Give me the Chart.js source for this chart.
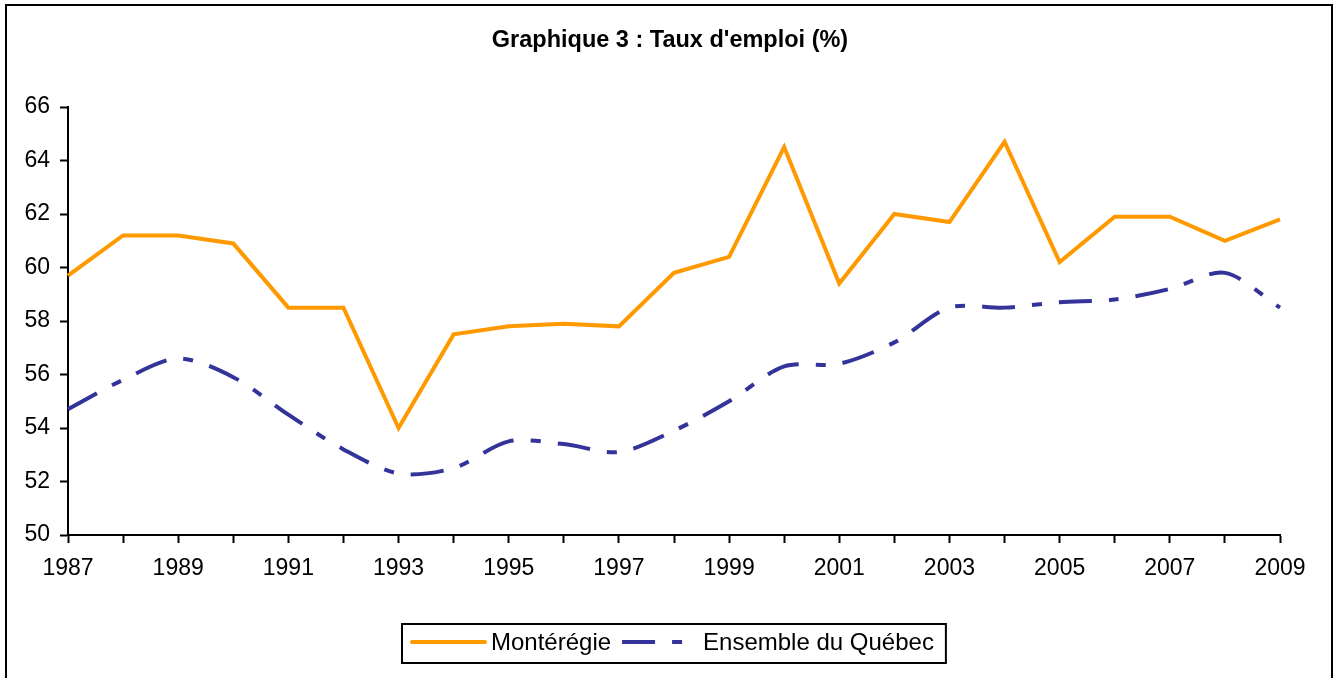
<!DOCTYPE html>
<html>
<head>
<meta charset="utf-8">
<script src="https://cdn.jsdelivr.net/npm/chart.js@4/dist/chart.umd.min.js"></script>
<style>
  html, body { margin: 0; padding: 0; background: #fff; overflow: hidden; }
</style>
</head>
<body>
<canvas id="chart" width="1335" height="678"></canvas>
<script>
// data
const years = ['1987', '1988', '1989', '1990', '1991', '1992', '1993', '1994', '1995', '1996', '1997', '1998',
  '1999', '2000', '2001', '2002', '2003', '2004', '2005', '2006', '2007', '2008', '2009'];
const monteregie = [59.7, 61.2, 61.2, 60.9, 58.5, 58.5, 54.0, 57.5, 57.8, 57.9, 57.8, 59.8,
  60.4, 64.5, 59.4, 62.0, 61.7, 64.7, 60.2, 61.9, 61.9, 61.0, 61.8];
const quebec = [54.7, 55.8, 56.6, 55.9, 54.5, 53.2, 52.3, 52.5, 53.5, 53.4, 53.1, 53.9,
  55.0, 56.3, 56.4, 57.2, 58.5, 58.5, 58.7, 58.8, 59.2, 59.8, 58.5];
const yTicks = [50, 52, 54, 56, 58, 60, 62, 64, 66];
const titleText = "Graphique 3 : Taux d'emploi (%)";

const FONT = '"Liberation Sans", Arial, sans-serif';

// frame, title and boxed legend, drawn like the Excel original
const framePlugin = {
  id: 'frame',
  beforeDraw(chart) {
    const ctx = chart.ctx;
    ctx.save();
    ctx.fillStyle = '#fff';
    ctx.fillRect(0, 0, chart.width, chart.height);
    ctx.restore();
  },
  afterDraw(chart) {
    const ctx = chart.ctx;
    ctx.save();
    ctx.strokeStyle = '#000';
    ctx.lineWidth = 2;
    ctx.strokeRect(6, 5, 1326, 720);

    ctx.fillStyle = '#000';
    ctx.font = 'bold 23.5px ' + FONT;
    ctx.textAlign = 'center';
    ctx.textBaseline = 'middle';
    ctx.fillText(titleText, 670, 41);

    // legend
    ctx.font = '24px ' + FONT;
    ctx.textAlign = 'left';
    const sample = 77, gap = 4, pad = 8, between = 11, padR = 12;
    const items = chart.data.datasets.map(ds => ({ ds, w: ctx.measureText(ds.label).width }));
    let total = pad + padR + between * (items.length - 1);
    items.forEach(it => { total += sample + gap + it.w; });
    let x = Math.round(674 - total / 2);
    const top = 624, h = 39, cy = 642;
    ctx.lineWidth = 2;
    ctx.strokeRect(x, top, total, h);
    x += pad;
    items.forEach(it => {
      ctx.save();
      ctx.strokeStyle = it.ds.borderColor;
      ctx.lineWidth = it.ds.borderWidth;
      ctx.lineCap = it.ds.borderDash ? 'butt' : 'round';
      ctx.setLineDash(it.ds.borderDash || []);
      ctx.beginPath();
      ctx.moveTo(x + (it.ds.borderDash ? 0 : 2), cy);
      ctx.lineTo(x + sample - (it.ds.borderDash ? 0 : 2), cy);
      ctx.stroke();
      ctx.restore();
      ctx.fillStyle = '#000';
      ctx.fillText(it.ds.label, x + sample + gap, cy + 1);
      x += sample + gap + it.w + between;
    });
    ctx.restore();
  }
};

const axisGrid = {
  display: true,
  drawOnChartArea: false,
  drawTicks: true,
  tickLength: 8,
  tickWidth: 2,
  tickColor: '#000'
};

new Chart(document.getElementById('chart').getContext('2d'), {
  type: 'line',
  data: {
    labels: years,
    datasets: [{
      label: 'Montérégie',
      data: monteregie,
      borderColor: '#FF9900',
      backgroundColor: '#FF9900',
      borderWidth: 4,
      pointRadius: 0,
      tension: 0,
      fill: false
    }, {
      label: 'Ensemble du Québec',
      data: quebec,
      borderColor: '#333399',
      backgroundColor: '#333399',
      borderWidth: 4,
      borderDash: [33, 17, 10, 17],
      borderCapStyle: 'butt',
      pointRadius: 0,
      tension: 0.3,
      fill: false
    }]
  },
  options: {
    responsive: false,
    animation: false,
    devicePixelRatio: 1,
    layout: { padding: { top: 107, right: 55, bottom: 0, left: 0 } },
    plugins: {
      legend: { display: false },
      title: { display: false },
      tooltip: { enabled: false }
    },
    scales: {
      x: {
        type: 'category',
        offset: false,
        grid: axisGrid,
        border: { display: true, color: '#000', width: 2 },
        ticks: {
          color: '#000',
          font: { family: FONT, size: 23 },
          padding: 12,
          autoSkip: false,
          maxRotation: 0,
          callback: (v, i) => (i % 2 === 0 ? years[i] : '')
        },
        afterFit: s => { s.height = 143; }
      },
      y: {
        min: yTicks[0],
        max: yTicks[yTicks.length - 1],
        grid: axisGrid,
        border: { display: true, color: '#000', width: 2 },
        ticks: {
          color: '#000',
          font: { family: FONT, size: 23 },
          stepSize: yTicks[1] - yTicks[0],
          padding: 10
        },
        afterFit: s => { s.width = 68; }
      }
    }
  },
  plugins: [framePlugin]
});
</script>
</body>
</html>
